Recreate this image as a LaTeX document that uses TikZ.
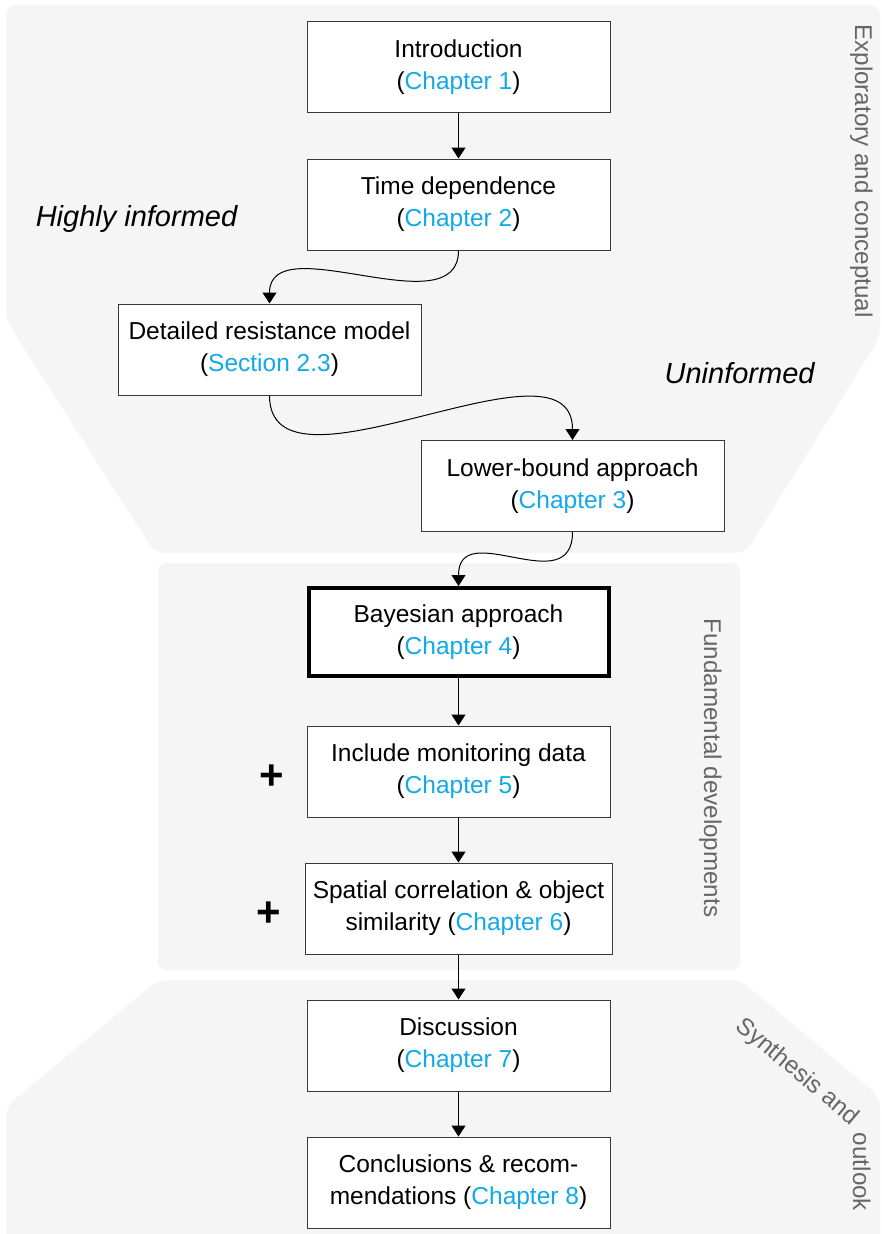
\documentclass[tikz,border=0pt]{standalone}
\usepackage{fontspec}
\setmainfont{Liberation Sans}
\usetikzlibrary{arrows.meta}
\definecolor{bgfill}{HTML}{F5F5F5}
\definecolor{chap}{HTML}{12A9E9}
\definecolor{rotgray}{HTML}{666666}
\newcommand\boxfont{\fontsize{24.5}{32}\selectfont}
\newcommand\labfont{\fontsize{29}{35}\selectfont\itshape}
\newcommand\rotfont{\fontsize{24.2}{29}\selectfont}
\newcommand\plusfont{\fontsize{42}{48}\selectfont\bfseries}
\newcommand\ch[1]{\textcolor{chap}{#1}}
\begin{document}
\begin{tikzpicture}[x=1pt,y=-1pt,
  box/.style={draw=black!78, line width=1pt, fill=white, minimum width=303pt,
    minimum height=91pt, inner sep=0pt, align=center, font=\boxfont},
  thickbox/.style={box, draw=black, line width=4pt, minimum width=300pt, minimum height=88pt},
  arr/.style={-{Triangle[width=14pt,length=11pt]}, line width=1pt, black},
  lab/.style={font=\labfont, inner sep=0pt, anchor=base},
  rot/.style={font=\rotfont, text=rotgray, inner sep=0pt, anchor=base, rotate=-90},
  plussign/.style={font=\plusfont, inner sep=0pt, anchor=base}]
\useasboundingbox (0,0) rectangle (881,1234);
\fill[white] (0,0) rectangle (881,1234);
% background regions
\fill[bgfill, rounded corners=10pt] (6,5) -- (880,5) -- (880,337) -- (745,553) -- (155,553) -- (6,320) -- cycle;
\fill[bgfill, rounded corners=8pt] (158,563) rectangle (740,970);
\fill[bgfill, rounded corners=10pt] (158,980) -- (740,980) -- (880,1097) -- (880,1250) -- (6,1250) -- (6,1107) -- cycle;
% boxes
\node[box] (intro) at (458.5,67) {Introduction\\(\ch{Chapter 1})};
\node[box] (td) at (458.5,204.5) {Time dependence\\(\ch{Chapter 2})};
\node[box] (drm) at (269.5,349.5) {Detailed resistance model\\(\ch{Section 2.3})};
\node[box] (lba) at (572.5,486) {Lower-bound approach\\(\ch{Chapter 3})};
\node[thickbox] (bay) at (458.5,632) {Bayesian approach\\(\ch{Chapter 4})};
\node[box] (imd) at (458.5,771.5) {Include monitoring data\\(\ch{Chapter 5})};
\node[box, minimum width=307pt] (spc) at (458.5,908.5) {Spatial correlation \& object\\similarity (\ch{Chapter 6})};
\node[box] (dis) at (458.5,1045.5) {Discussion\\(\ch{Chapter 7})};
\node[box] (con) at (458.5,1182.5) {Conclusions \& recom-\\mendations (\ch{Chapter 8})};
% connectors
\draw[arr] (intro.south) -- (td.north);
\draw[arr] (td.south) .. controls +(0,78) and +(0,-78) .. (drm.north);
\draw[arr] (drm.south) .. controls +(0,115) and +(0,-115) .. (lba.north);
\draw[arr] (lba.south) .. controls +(0,70) and +(0,-70) .. (bay.north);
\draw[arr] (bay.south) -- (imd.north);
\draw[arr] (imd.south) -- (spc.north);
\draw[arr] (spc.south) -- (dis.north);
\draw[arr] (dis.south) -- (con.north);
% labels
\node[lab] (hinf) at (136.5,226.7) {Highly informed};
\node[lab] (uninf) at (739.6,383) {Uninformed};
\node[plussign] (plus1) at (271.5,789.5) {+};
\node[plussign] (plus2) at (268.7,926) {+};
\node[rot] (expl) at (855,171) {Exploratory and conceptual};
\node[rot] (fund) at (704,768) {Fundamental developments};
\node[rot, rotate=50] (synth) at (793,1077) {Synthesis and};
\node[rot] (outl) at (853,1172) {outlook};
\end{tikzpicture}
\end{document}
